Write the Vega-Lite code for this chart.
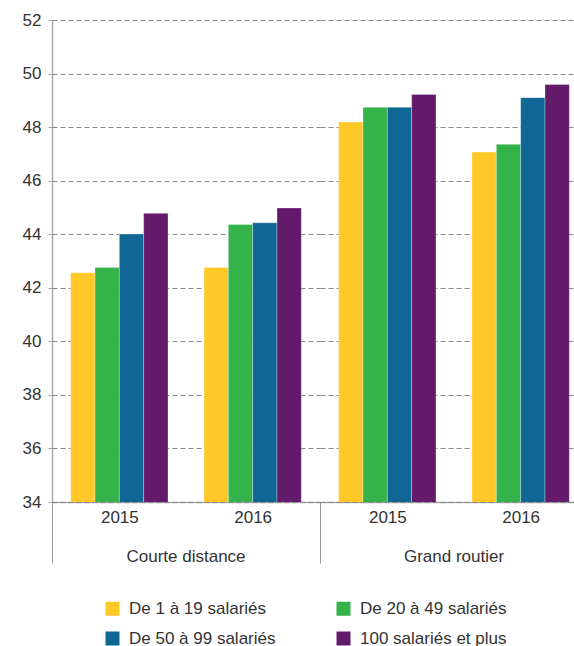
{
  "$schema": "https://vega.github.io/schema/vega-lite/v6.json",
  "padding": {"left": 22, "top": 11, "right": 0, "bottom": 0},
  "data": {
    "values": [
      {"type": "Courte distance", "year": "2015", "series": "De 1 à 19 salariés", "value": 42.56},
      {"type": "Courte distance", "year": "2015", "series": "De 20 à 49 salariés", "value": 42.76},
      {"type": "Courte distance", "year": "2015", "series": "De 50 à 99 salariés", "value": 44.01},
      {"type": "Courte distance", "year": "2015", "series": "100 salariés et plus", "value": 44.78},
      {"type": "Courte distance", "year": "2016", "series": "De 1 à 19 salariés", "value": 42.76},
      {"type": "Courte distance", "year": "2016", "series": "De 20 à 49 salariés", "value": 44.36},
      {"type": "Courte distance", "year": "2016", "series": "De 50 à 99 salariés", "value": 44.43},
      {"type": "Courte distance", "year": "2016", "series": "100 salariés et plus", "value": 44.98},
      {"type": "Grand routier", "year": "2015", "series": "De 1 à 19 salariés", "value": 48.19},
      {"type": "Grand routier", "year": "2015", "series": "De 20 à 49 salariés", "value": 48.74},
      {"type": "Grand routier", "year": "2015", "series": "De 50 à 99 salariés", "value": 48.74},
      {"type": "Grand routier", "year": "2015", "series": "100 salariés et plus", "value": 49.22},
      {"type": "Grand routier", "year": "2016", "series": "De 1 à 19 salariés", "value": 47.07},
      {"type": "Grand routier", "year": "2016", "series": "De 20 à 49 salariés", "value": 47.36},
      {"type": "Grand routier", "year": "2016", "series": "De 50 à 99 salariés", "value": 49.10},
      {"type": "Grand routier", "year": "2016", "series": "100 salariés et plus", "value": 49.59}
    ]
  },
  "facet": {
    "column": {
      "field": "type",
      "type": "nominal",
      "sort": ["Courte distance", "Grand routier"],
      "title": null,
      "header": {
        "labelOrient": "bottom",
        "labelPadding": -15,
        "labelFontSize": 17,
        "labelColor": "#333333",
        "labelFont": "Liberation Sans"
      }
    }
  },
  "spacing": 0,
  "spec": {
    "width": 268,
    "height": 482,
    "mark": {"type": "bar", "clip": true, "stroke": "#ffffff", "strokeWidth": 0.6, "strokeOpacity": 0.5},
    "encoding": {
      "x": {
        "field": "year",
        "type": "nominal",
        "scale": {"paddingInner": 0.27, "paddingOuter": 0.14},
        "axis": {
          "title": null,
          "labelAngle": 0,
          "grid": false,
          "domainColor": "#aaaaaa",
          "domainWidth": 1.5,
          "tickOffset": -67.33,
          "labelOffset": 67.33,
          "tickSize": 61,
          "tickColor": "#999999",
          "tickWidth": 1,
          "tickOpacity": {"condition": {"test": "datum.value === '2015'", "value": 1}, "value": 0},
          "labelPadding": -54,
          "labelFontSize": 17,
          "labelColor": "#333333",
          "labelFont": "Liberation Sans"
        }
      },
      "xOffset": {
        "field": "series",
        "type": "nominal",
        "sort": ["De 1 à 19 salariés", "De 20 à 49 salariés", "De 50 à 99 salariés", "100 salariés et plus"],
        "scale": {"paddingInner": 0, "paddingOuter": 0}
      },
      "y": {
        "field": "value",
        "type": "quantitative",
        "scale": {"domain": [34, 52], "zero": false, "nice": false},
        "axis": {
          "title": null,
          "values": [34, 36, 38, 40, 42, 44, 46, 48, 50, 52],
          "grid": true,
          "gridDash": [5, 3],
          "gridColor": "#888888",
          "gridWidth": 1,
          "domainColor": "#aaaaaa",
          "domainWidth": 1.5,
          "tickColor": "#aaaaaa",
          "tickSize": 4,
          "labelPadding": 7,
          "labelFontSize": 17,
          "labelColor": "#333333",
          "labelFont": "Liberation Sans"
        }
      },
      "color": {
        "field": "series",
        "type": "nominal",
        "sort": ["De 1 à 19 salariés", "De 20 à 49 salariés", "De 50 à 99 salariés", "100 salariés et plus"],
        "scale": {
          "domain": ["De 1 à 19 salariés", "De 20 à 49 salariés", "De 50 à 99 salariés", "100 salariés et plus"],
          "range": ["#FFC828", "#34B34A", "#106694", "#641A6A"]
        },
        "legend": {
          "orient": "none",
          "legendX": 52,
          "legendY": 580,
          "columns": 2,
          "direction": "horizontal",
          "title": null,
          "symbolType": "square",
          "symbolSize": 196,
          "symbolStrokeWidth": 0,
          "labelFontSize": 17,
          "labelColor": "#333333",
          "labelFont": "Liberation Sans",
          "labelOffset": 8,
          "columnPadding": 59,
          "rowPadding": 12
        }
      }
    }
  },
  "config": {
    "view": {"stroke": null},
    "font": "Liberation Sans"
  }
}
